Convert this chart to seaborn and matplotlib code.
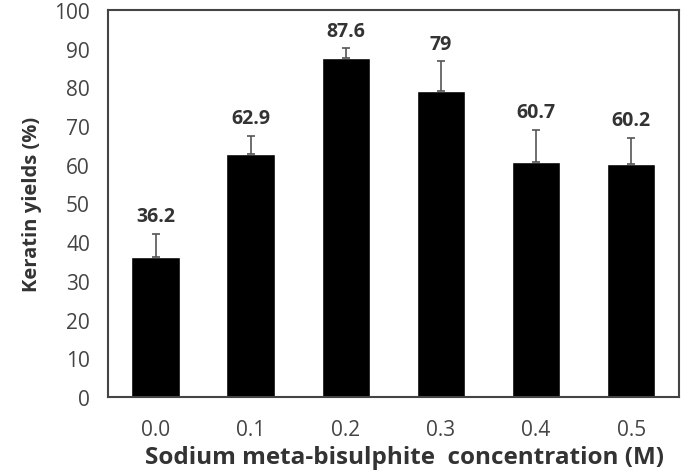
import matplotlib
matplotlib.use("Agg")
import matplotlib.pyplot as plt
import seaborn as sns
import numpy as np
import pandas as pd

# Data
concentrations = ["0.0", "0.1", "0.2", "0.3", "0.4", "0.5"]
yields = [36.2, 62.9, 87.6, 79.0, 60.7, 60.2]
errors = [5.9, 4.6, 2.5, 7.7, 8.4, 6.7]
value_labels = ["36.2", "62.9", "87.6", "79", "60.7", "60.2"]

df = pd.DataFrame({"conc": concentrations, "yield": yields})

sns.set_style("white")
plt.rcParams['font.family'] = ['Open Sans', 'DejaVu Sans']

fig = plt.figure(figsize=(6.81, 4.77), dpi=100)
ax = fig.add_axes([0.1586, 0.1656, 0.838, 0.8114])

sns.barplot(data=df, x="conc", y="yield", color="black", width=0.51,
            saturation=1, ax=ax, errorbar=None)

# upper error bars only
xpos = np.arange(len(concentrations))
ax.errorbar(xpos, yields, yerr=[np.zeros(len(errors)), errors], fmt="none",
            ecolor="#555555", elinewidth=1.2, capsize=3, capthick=1.2)

for x, y, e, lab in zip(xpos, yields, errors, value_labels):
    ax.text(x, y + e + 2.0, lab, ha="center", va="bottom", fontsize=14,
            fontweight="bold", color="#333333")

ax.set_xlim(-0.5, 5.5)
ax.set_ylim(0, 100)
ax.set_yticks(range(0, 101, 10))
ax.set_xticks(np.arange(-0.5, 5.6, 1), minor=False)
ax.set_xticklabels([])
ax.set_xticks(xpos, minor=True)
ax.set_xticklabels(concentrations, minor=True)
ax.tick_params(axis="x", which="minor", length=0, pad=16, labelsize=15, labelcolor="#444444")
ax.tick_params(axis="x", which="major", direction="out", length=5, width=1.2, color="#444444")
ax.tick_params(axis="y", direction="out", length=5, width=1.2, color="#444444",
               labelsize=15, labelcolor="#444444", pad=8)

for sp in ax.spines.values():
    sp.set_visible(True)
    sp.set_color("#444444")
    sp.set_linewidth(1.5)

ax.set_xlabel("Sodium meta-bisulphite  concentration (M)", fontsize=17.5,
              fontweight="bold", color="#333333")
ax.xaxis.set_label_coords(0.519, -0.155)
ax.xaxis.label.set_va("center")
ax.set_ylabel("Keratin yields (%)", fontsize=14.5, fontweight="bold", color="#333333")
ax.yaxis.set_label_coords(-0.115, 0.5)

fig.savefig("out.png", dpi=100)
